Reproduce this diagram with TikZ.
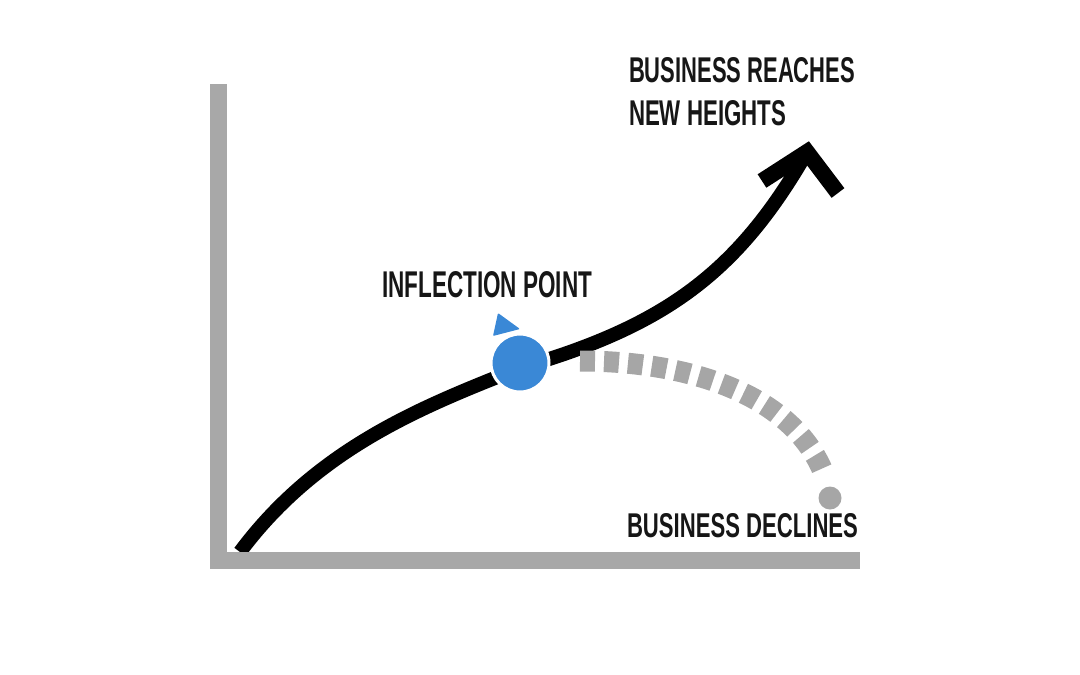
\documentclass[tikz,border=0pt]{standalone}
\usepackage{fontspec}
\setmainfont{Liberation Sans}
\usepackage{graphicx}
\usetikzlibrary{calc}

\definecolor{axisgray}{RGB}{168,168,168}
\definecolor{dashgray}{RGB}{166,166,166}
\definecolor{pointblue}{RGB}{58,136,214}
\definecolor{labelblack}{RGB}{22,22,22}

\tikzset{
    caption/.style={anchor=north west, inner sep=0pt, outer sep=0pt, text=labelblack, font=\bfseries},
    growth/.style={line width=14pt, black},
    decline/.style={line width=21pt, dashgray, dash pattern=on 15pt off 9pt}
}

\begin{document}
\begin{tikzpicture}[x=1pt, y=-1pt]
        % Canvas
        \useasboundingbox (0,0) rectangle (1080,675);

        % Parameters
        \def\rDot{29}
        \def\rEnd{11.5}

        % Key points
        \coordinate (Start) at (240,552);
        \coordinate (Infl) at (520,368);
        \coordinate (Tip) at (807,152);
        \coordinate (DecStart) at (580,361);
        \coordinate (DecEnd) at (824,474);
        \coordinate (EndDot) at (830,498);

        % Growth curve
        \draw[growth] (Start)
            .. controls (319,446) and (427,405) .. (Infl)
            .. controls (664,326) and (737,274) .. (Tip);

        % Arrow head
        \draw[growth, line width=16pt, miter limit=4] (762,181) -- (Tip) -- (838,193);

        % Declining branch
        \draw[decline] (DecStart) .. controls (690,361) and (793,395) .. (DecEnd);
        \fill[dashgray] (EndDot) circle (\rEnd);

        % Axes
        \fill[axisgray] (210,84) rectangle (227,569);
        \fill[axisgray] (210,552) rectangle (860,569);

        % Inflection point marker
        \fill[pointblue, draw=white, line width=3pt] (520,363) circle (\rDot);
        \fill[pointblue, rounded corners=1pt] (498,313) -- (520,329) -- (493,336) -- cycle;

        % Labels
        \node[caption] (reach1) at (629,57) {\resizebox{226pt}{25pt}{BUSINESS REACHES}};
        \node[caption] (reach2) at (629,100) {\resizebox{157pt}{25pt}{NEW HEIGHTS}};
        \node[caption] (inflLabel) at (382,271) {\resizebox{210pt}{26pt}{INFLECTION POINT}};
        \node[caption] (declLabel) at (627,513) {\resizebox{231pt}{24pt}{BUSINESS DECLINES}};
    \end{tikzpicture}
\end{document}
